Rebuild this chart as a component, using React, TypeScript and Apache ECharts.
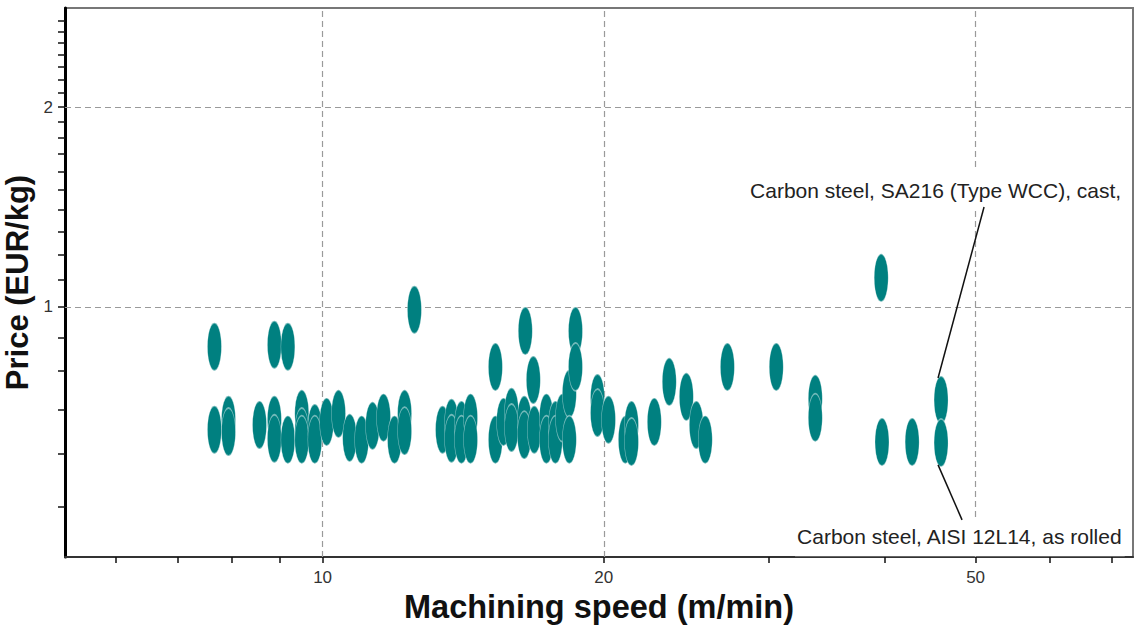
import React, { useEffect, useRef } from 'react';
import * as echarts from 'echarts';

// Machining speed (m/min) and price (EUR/kg) of each material ellipse
const speed = [
  7.66, 8.88, 9.18, 7.66, 7.93, 7.93, 8.56, 8.88, 8.88, 9.18,
  9.50, 9.50, 9.50, 9.81, 9.81, 10.10, 10.40, 12.54, 10.69, 11.01,
  11.31, 11.62, 11.94, 12.24, 12.24, 13.44, 13.74, 13.74, 14.08, 14.08,
  14.40, 14.40, 15.31, 16.48, 15.31, 15.62, 15.93, 15.93, 16.44, 16.44,
  16.81, 16.85, 17.36, 17.36, 17.75, 17.75, 18.06, 18.37, 18.37, 18.65,
  18.65, 19.69, 19.69, 20.23, 21.09, 21.41, 21.41, 22.65, 23.5, 24.51,
  25.12, 25.68, 27.12, 30.59, 33.68, 33.68, 39.7, 42.76, 45.92, 45.92,
  39.62,
];
const price = [
  0.871, 0.877, 0.871, 0.653, 0.676, 0.648, 0.664, 0.676, 0.633, 0.631,
  0.690, 0.648, 0.631, 0.657, 0.631, 0.671, 0.690, 0.990, 0.635, 0.631,
  0.662, 0.681, 0.631, 0.690, 0.650, 0.653, 0.669, 0.633, 0.664, 0.631,
  0.681, 0.631, 0.812, 0.920, 0.631, 0.671, 0.695, 0.657, 0.676, 0.641,
  0.776, 0.653, 0.681, 0.631, 0.664, 0.631, 0.681, 0.740, 0.631, 0.920,
  0.812, 0.729, 0.692, 0.676, 0.631, 0.664, 0.626, 0.671, 0.771, 0.732,
  0.664, 0.631, 0.812, 0.812, 0.727, 0.681, 0.626, 0.626, 0.724, 0.624,
  1.106,
];

const xTicks = [6, 7, 8, 9, 10, 20, 30, 40, 50, 60, 70];
const xLabels = [10, 20, 50];
const yTicks = [0.5, 0.6, 0.7, 0.8, 0.9, 1, 1.1, 1.2, 1.3, 1.4, 1.5, 1.6, 1.7, 1.8, 1.9, 2, 2.1, 2.2, 2.3, 2.4, 2.5, 2.6, 2.7];
const yLabels = [1, 2];

const annotationNames = ['Carbon steel, SA216 (Type WCC), cast,', 'Carbon steel, AISI 12L14, as rolled'];
const annotationSpeed = [45.92, 45.92];
const annotationPrice = [0.724, 0.624];

const FONT = '"Liberation Sans", Arial, Helvetica, sans-serif';

export default function App() {
  const ref = useRef<HTMLDivElement>(null);

  useEffect(() => {
    if (!ref.current) return;
    const chart = echarts.init(ref.current, null, { renderer: 'svg' });
    const points = speed.map((s, i) => [s, price[i]]);

    chart.setOption({
      animation: false,
      textStyle: { fontFamily: FONT },
      grid: {
        left: 65, right: 2, top: 8, bottom: 69,
        containLabel: false, outerBoundsMode: 'none',
        show: true, borderColor: '#777', borderWidth: 2,
      },
      xAxis: {
        type: 'log',
        logBase: 10,
        min: 5.3,
        max: 73.7,
        name: 'Machining speed (m/min)',
        nameLocation: 'middle',
        nameGap: 30,
        nameTextStyle: { fontSize: 32.5, fontWeight: 'bold', color: '#111', fontFamily: FONT },
        axisLine: { show: true, onZero: false, lineStyle: { color: '#333', width: 2 } },
        axisTick: { show: true, length: 6, customValues: xTicks, lineStyle: { color: '#111', width: 1.5 } },
        axisLabel: { show: true, customValues: xLabels, margin: 12, fontSize: 17, color: '#333', fontFamily: FONT, formatter: (v: number) => String(v) },
        splitLine: { show: false },
        minorTick: { show: false },
        minorSplitLine: { show: false },
      },
      yAxis: {
        type: 'log',
        logBase: 10,
        min: 0.42,
        max: 2.82,
        name: 'Price (EUR/kg)',
        nameLocation: 'middle',
        nameGap: 26,
        nameTextStyle: { fontSize: 31, fontWeight: 'bold', color: '#111', fontFamily: FONT },
        axisLine: { show: true, onZero: false, lineStyle: { color: '#000', width: 3 } },
        axisTick: { show: true, length: 7, customValues: yTicks, lineStyle: { color: '#111', width: 1.5 } },
        axisLabel: { show: true, customValues: yLabels, margin: 12, fontSize: 17, color: '#333', fontFamily: FONT, formatter: (v: number) => String(v) },
        splitLine: { show: false },
        minorTick: { show: false },
        minorSplitLine: { show: false },
      },
      series: [
        {
          type: 'scatter',
          data: [],
          z: 1,
          silent: true,
          markLine: {
            silent: true,
            z: 1,
            symbol: ['none', 'none'],
            label: { show: false },
            lineStyle: { color: '#9a9a9a', width: 1.2, type: [6, 4] },
            data: [
              ...xLabels.map((v) => ({ xAxis: v })),
              ...yLabels.map((v) => ({ yAxis: v })),
            ],
          },
        },
        {
          type: 'scatter',
          data: points,
          symbol: 'circle',
          symbolSize: [14, 48],
          z: 3,
          itemStyle: { color: '#008080', borderColor: 'rgba(255,255,255,0.45)', borderWidth: 1, opacity: 1 },
        },
      ],
    });

    const graphics: any[] = [];
    annotationNames.forEach((name, i) => {
      const p = chart.convertToPixel({ gridIndex: 0 }, [annotationSpeed[i], annotationPrice[i]]) as number[];
      if (!p) return;
      const above = i === 0;
      graphics.push({
        type: 'text',
        z: 100,
        x: above ? p[0] - 193 : p[0] - 146,
        y: above ? p[1] - 210 : p[1] + 94,
        style: {
          text: name,
          fill: '#222',
          font: `21px ${FONT}`,
          align: 'left',
          verticalAlign: 'middle',
          backgroundColor: '#fff',
          padding: above ? [8, 2, 12, 2] : [9, 2, 9, 2],
        },
      });
      graphics.push({
        type: 'line',
        z: 101,
        shape: above
          ? { x1: p[0] + 43, y1: p[1] - 193, x2: p[0] - 3, y2: p[1] - 22 }
          : { x1: p[0] - 3, y1: p[1] + 22, x2: p[0] + 21, y2: p[1] + 77 },
        style: { stroke: '#111', lineWidth: 1.5 },
      });
    });
    chart.setOption({ graphic: graphics });

    return () => chart.dispose();
  }, []);

  return <div ref={ref} style={{ position: 'absolute', left: 0, top: 0, width: 1135, height: 626 }} />;
}
